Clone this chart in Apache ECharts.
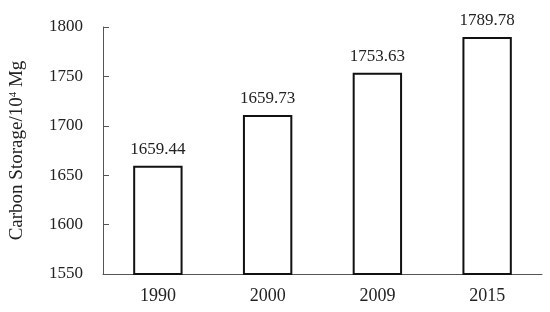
<!DOCTYPE html>
<html>
<head>
<meta charset="utf-8">
<script src="https://cdn.jsdelivr.net/npm/echarts@6/dist/echarts.min.js"></script>
<style>
  html, body { margin: 0; padding: 0; background: #fff; }
  #chart { width: 550px; height: 312px; }
</style>
</head>
<body>
<div id="chart"></div>
<script>
  const years = ['1990', '2000', '2009', '2015']
  // bar heights as drawn
  const values = [1659.44, 1711, 1753.63, 1789.78]
  // labels as printed above the bars
  const labels = ['1659.44', '1659.73', '1753.63', '1789.78']
  const yMin = 1550
  const yMax = 1800
  const yStep = 50

  const font = '"Liberation Serif", "DejaVu Serif", serif'

  const chart = echarts.init(document.getElementById('chart'))
  chart.setOption({
    animation: false,
    grid: { left: 102, right: 8, top: 27, bottom: 38 },
    xAxis: {
      type: 'category',
      data: years,
      axisLine: { lineStyle: { color: '#555', width: 1 } },
      axisTick: { inside: true, length: 4, lineStyle: { color: '#555' } },
      axisLabel: { color: '#222', fontFamily: font, fontSize: 18, margin: 13 },
      splitLine: { show: false }
    },
    yAxis: {
      type: 'value',
      min: yMin,
      max: yMax,
      interval: yStep,
      name: 'Carbon Storage/10{sup|4} Mg',
      nameLocation: 'middle',
      nameGap: 76,
      nameTextStyle: {
        color: '#222',
        fontFamily: font,
        fontSize: 19,
        rich: {
          sup: { fontFamily: font, fontSize: 11, verticalAlign: 'top', color: '#222', padding: [0, 0, 8, 0] }
        }
      },
      axisLine: { show: true, lineStyle: { color: '#555', width: 1 } },
      axisTick: { show: true, inside: true, length: 6, lineStyle: { color: '#555' } },
      axisLabel: {
        color: '#222',
        fontFamily: font,
        fontSize: 17,
        margin: 20,
        formatter: (v) => String(v)
      },
      splitLine: { show: false }
    },
    series: [
      {
        type: 'bar',
        data: values,
        barWidth: '45%',
        itemStyle: { color: '#fff', borderColor: '#111', borderWidth: 2 },
        label: {
          show: true,
          position: 'top',
          distance: 8,
          color: '#222',
          fontFamily: font,
          fontSize: 17,
          formatter: (p) => labels[p.dataIndex]
        }
      }
    ]
  })
</script>
</body>
</html>
